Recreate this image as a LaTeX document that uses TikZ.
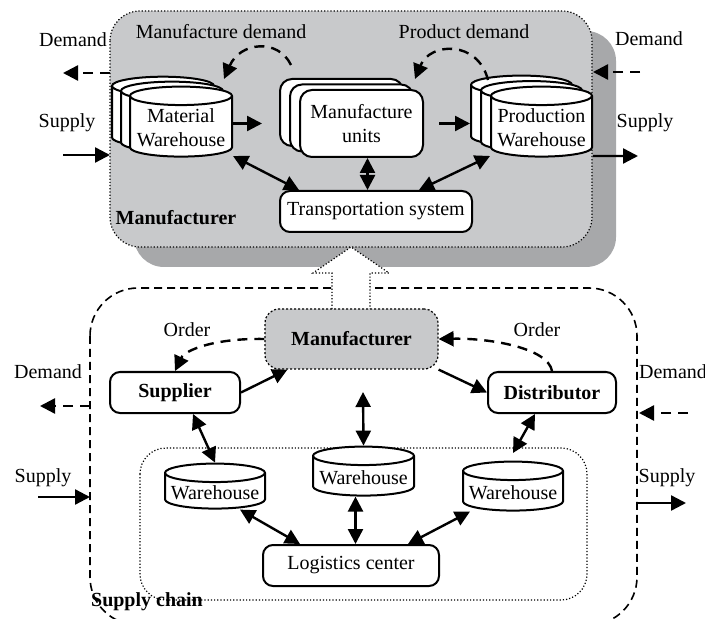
\documentclass[tikz,border=0pt]{standalone}
\usepackage{fontspec}
\setmainfont{Liberation Serif}
\usetikzlibrary{arrows.meta,shapes.geometric,shadows}

\definecolor{boxgray}{RGB}{200,201,203}
\definecolor{shadegray}{RGB}{167,168,170}

\tikzset{
  unit/.style={rectangle,rounded corners=5pt,draw=black,line width=1pt,fill=white,align=center,inner sep=2pt},
  store/.style={cylinder,shape border rotate=90,aspect=0.2,draw=black,line width=1pt,fill=white,align=center,inner sep=1pt},
  stack/.style={copy shadow={shadow xshift=-2*#1,shadow yshift=1.1*#1},copy shadow={shadow xshift=-#1,shadow yshift=0.55*#1}},
  flow/.style={-{Triangle[length=7.5pt,width=7.5pt]},line width=1.2pt},
  twoway/.style={{Triangle[length=7.5pt,width=7.5pt]}-{Triangle[length=7.5pt,width=7.5pt]},line width=1.2pt},
  info/.style={flow,dash pattern=on 5pt off 3.5pt},
  lbl/.style={inner sep=1pt}
}

\begin{document}
\begin{tikzpicture}[x=0.5pt,y=-0.5pt]
\useasboundingbox (0,0) rectangle (705,619);
% containers
\draw[line width=0.8pt,dash pattern=on 4pt off 2.5pt,rounded corners=24pt] (90,288) rectangle (637,625);
\draw[line width=0.6pt,densely dotted,rounded corners=13pt] (140,448) rectangle (587,600);
\fill[shadegray,rounded corners=15pt] (134,31) rectangle (616,267);
\draw[line width=0.6pt,densely dotted,fill=boxgray,rounded corners=15pt] (110,11) rectangle (592,247);
\draw[line width=0.6pt,densely dotted,fill=white] (332,309) -- (332,273) -- (313,273) -- (351,247) -- (389,273) -- (370,273) -- (370,309);

% manufacturer
\node[store,stack=4.5pt,minimum width=51pt,minimum height=35pt] (mw) at (181,128) {Material\\Warehouse};
\node[unit,stack=5pt,minimum width=61.5pt,minimum height=33.5pt,rounded corners=6pt] (mu) at (361.5,123.5) {Manufacture\\units};
\node[store,stack=5pt,minimum width=50.5pt,minimum height=35pt] (pw) at (541.5,128) {Production\\Warehouse};
\node[unit,minimum width=96pt,minimum height=20.5pt] (ts) at (376,211.5) {Transportation system};
\node[lbl,font=\bfseries] (mlbl) at (176,218) {Manufacturer};
\node[lbl] (mdem) at (221,32) {Manufacture demand};
\node[lbl] (pdem) at (464,32) {Product demand};
\node[lbl] (dtl) at (73,40) {Demand};
\node[lbl] (dtr) at (649,39) {Demand};
\node[lbl] (stl) at (67,123) {Supply};
\node[lbl] (str) at (645,123) {Supply};

% supply chain
\node[unit,draw=black,densely dotted,line width=0.6pt,fill=boxgray,font=\bfseries,minimum width=86.5pt,minimum height=30pt,rounded corners=7pt] (mfs) at (351.5,339) {Manufacturer};
\node[unit,font=\bfseries,minimum width=65pt,minimum height=20.5pt] (sup) at (175,392.5) {Supplier};
\node[unit,font=\bfseries,minimum width=64pt,minimum height=20.5pt] (dis) at (552,392.5) {Distributor};
\node[store,minimum width=50pt,minimum height=22.5pt] (lw) at (215,492.5) {Warehouse};
\node[store,minimum width=50.5pt,minimum height=24.5pt] (cw) at (363.5,477.5) {Warehouse};
\node[store,minimum width=50pt,minimum height=24.5pt] (rw) at (513,492.5) {Warehouse};
\node[unit,minimum width=88pt,minimum height=20.5pt] (lc) at (351,565.5) {Logistics center};
\node[lbl] (ordl) at (187,330) {Order};
\node[lbl] (ordr) at (537,330) {Order};
\node[lbl] (dbl) at (48,372) {Demand};
\node[lbl] (dbr) at (673,372) {Demand};
\node[lbl] (sbl) at (43,478) {Supply};
\node[lbl] (sbr) at (667,478) {Supply};
\node[lbl,font=\bfseries] (sclbl) at (147,602) {Supply chain};

% free ends
\coordinate (a1) at (110,73);  \coordinate (a2) at (63,73);
\coordinate (b1) at (63,155);  \coordinate (b2) at (110,155);
\coordinate (c1) at (640,72);  \coordinate (c2) at (593,72);
\coordinate (d2) at (638,156);
\coordinate (e1) at (291,65);  \coordinate (e2) at (224,79);
\coordinate (f1) at (488,80);  \coordinate (f2) at (415,79);
\coordinate (g1) at (363,392);
\coordinate (h2) at (513,453);
\coordinate (i1) at (90,406);  \coordinate (i2) at (40,406);
\coordinate (j1) at (38,497);  \coordinate (j2) at (90,497);
\coordinate (k1) at (688,413); \coordinate (k2) at (639,413);
\coordinate (l1) at (637,503); \coordinate (l2) at (686,503);

% top connectors
\draw[info] (a1) -- (a2);
\draw[flow] (b1) -- (b2);
\draw[info] (c1) -- (c2);
\draw[flow] ([yshift=-14pt]pw.east) -- (d2);
\draw[info] (e1) .. controls (278,38) and (240,42) .. (e2);
\draw[info] (f1) .. controls (478,40) and (430,42) .. (f2);
\draw[flow,shorten >=18.5pt] (mw.east |- mu.west) -- (mu.west);
\draw[flow,shorten <=7.5pt,shorten >=10pt] (mu.east) -- (pw.west |- mu.east);
\draw[twoway] ([yshift=-14pt]mw.east) -- ([xshift=10pt]ts.north west);
\draw[twoway] ([xshift=3pt]mu.south) -- ([xshift=3pt]mu.south |- ts.north);
\draw[twoway] ([yshift=-14pt]pw.west) -- ([xshift=-27pt]ts.north east);

% lower connectors
\draw[info] (mfs.west) .. controls (215,338) and (185,350) .. (sup.north);
\draw[info] (dis.north) .. controls (548,348) and (490,338) .. (mfs.east);
\draw[flow] (sup.east) -- ([xshift=11.5pt]mfs.south west);
\draw[flow] (mfs.south east) -- (dis.west);
\draw[twoway] ([xshift=9pt]sup.south) -- (lw.north);
\draw[twoway] (g1) -- (cw.north);
\draw[twoway] ([xshift=-8.5pt]dis.south) -- (h2);
\draw[twoway] ([xshift=12.5pt]lw.south) -- ([xshift=19pt]lc.north west);
\draw[twoway] ([xshift=-4pt]cw.south) -- ([xshift=-4pt]cw.south |- lc.north);
\draw[twoway] ([xshift=-21.5pt]rw.south) -- ([xshift=-16pt]lc.north east);
\draw[info] (i1) -- (i2);
\draw[flow] (j1) -- (j2);
\draw[info] (k1) -- (k2);
\draw[flow] (l1) -- (l2);
\end{tikzpicture}
\end{document}
